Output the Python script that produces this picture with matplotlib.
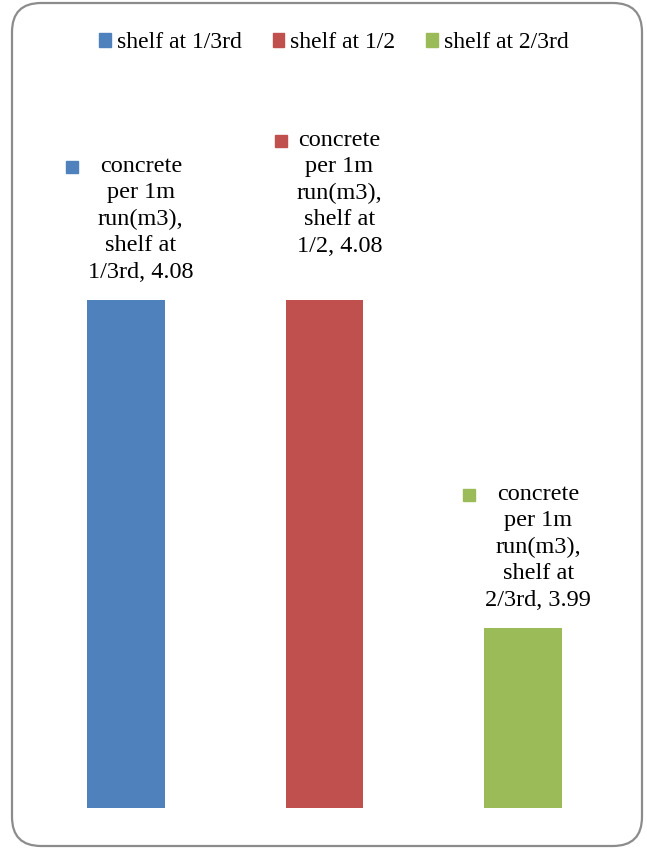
import matplotlib.pyplot as plt
from matplotlib.patches import FancyBboxPatch, Patch

series = ['shelf at 1/3rd', 'shelf at 1/2', 'shelf at 2/3rd']
values = [4.08, 4.08, 3.99]
colors = ['#4F81BD', '#C0504D', '#9BBB59']
label_text = ['concrete\nper 1m\nrun(m3),\nshelf at\n1/3rd, 4.08',
              'concrete\nper 1m\nrun(m3),\nshelf at\n1/2, 4.08',
              'concrete\nper 1m\nrun(m3),\nshelf at\n2/3rd, 3.99']
label_lift = [0, 26, 0]  # extra pixels the labels sit above the bar

W, H = 647, 852
plt.rcParams['font.family'] = ['Liberation Serif', 'DejaVu Serif']
fig = plt.figure(figsize=(W / 100, H / 100), dpi=100)

# rounded chart border
border = FancyBboxPatch((12 / W, 6 / H), 630 / W, 843 / H,
                        boxstyle='round,pad=0,rounding_size=0.045',
                        transform=fig.transFigure, facecolor='none',
                        edgecolor='#8c8c8c', linewidth=1.6,
                        mutation_aspect=W / H, zorder=-1)
fig.patches.append(border)

ax = fig.add_axes([26.5 / W, (H - 808) / H, 596 / W, 583 / H])
ax.set_facecolor('none')
x = range(len(series))
ax.bar(x, values, width=0.39, color=colors)
ax.set_xlim(-0.5, 2.5)
ax.set_ylim(3.9405, 4.1005)
ax.axis('off')

texts = []
for i in x:
    t = ax.annotate(label_text[i], (i, values[i]), xytext=(15, 17 + label_lift[i]),
                    textcoords='offset pixels', ha='center', va='bottom',
                    fontsize=17.5, linespacing=1.34, color='black',
                    annotation_clip=False)
    texts.append(t)

fig.canvas.draw()
r = fig.canvas.get_renderer()
for i, t in enumerate(texts):
    bb = t.get_window_extent(r)
    line_h = bb.height / 5
    cx = bb.x0 - 16
    cy = bb.y1 - line_h * 0.45
    fig.patches.append(plt.Rectangle(((cx - 6) / W, (cy - 6) / H), 12 / W, 12 / H,
                                     transform=fig.transFigure, color=colors[i]))

handles = [Patch(color=c, label=s) for c, s in zip(colors, series)]
fig.legend(handles=handles, loc='center', bbox_to_anchor=(334 / W, 1 - 43 / H),
           ncol=3, frameon=False, fontsize=17, handlelength=0.5, handleheight=0.5,
           handletextpad=0.25, columnspacing=1.3, borderaxespad=0)

fig.savefig('out.png', dpi=100)
